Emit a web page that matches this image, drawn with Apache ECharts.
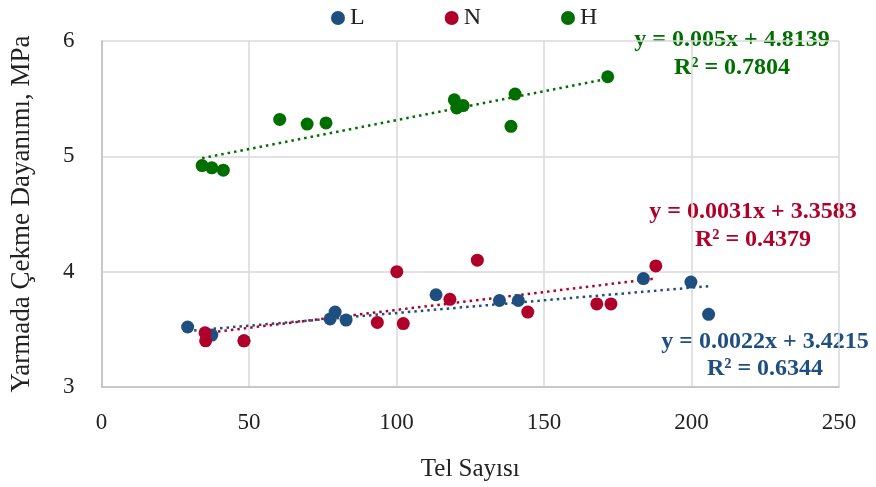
<!DOCTYPE html>
<html>
<head>
<meta charset="utf-8">
<script src="https://cdn.jsdelivr.net/npm/echarts@6/dist/echarts.min.js"></script>
<style>
  html, body { margin: 0; padding: 0; background: #fff; }
  #chart { width: 876px; height: 487px; }
</style>
</head>
<body>
<div id="chart"></div>
<script>
let seriesNames = ['L', 'N', 'H'];
let colorList = ['#1F4E80', '#B0002A', '#006F00'];

let dataL = [
  [29.2, 3.52], [37.4, 3.45], [48.3, 3.40], [77.5, 3.59], [79.2, 3.65],
  [82.9, 3.58], [113.4, 3.80], [134.9, 3.75], [141.3, 3.75], [183.7, 3.94],
  [199.8, 3.91], [205.8, 3.63]
];
let dataN = [
  [35.1, 3.47], [35.3, 3.40], [48.3, 3.40], [93.5, 3.56], [100.1, 4.00],
  [102.3, 3.55], [118.1, 3.76], [127.4, 4.10], [144.5, 3.65], [167.9, 3.72],
  [172.7, 3.72], [187.9, 4.05]
];
let dataH = [
  [34.1, 4.92], [37.4, 4.90], [41.3, 4.88], [60.4, 5.32], [69.7, 5.28],
  [76.1, 5.29], [119.6, 5.49], [120.4, 5.42], [122.6, 5.44], [138.8, 5.26],
  [140.2, 5.54], [171.6, 5.69]
];

// trend line coefficients as printed on the chart
let slopes = [0.0022, 0.0031, 0.005];
let intercepts = [3.4215, 3.3583, 4.8139];
let r2 = ['0.6344', '0.4379', '0.7804'];

let allData = [dataL, dataN, dataH];

function trend(i) {
  let xs = allData[i].map(d => d[0]);
  let x0 = Math.min.apply(null, xs), x1 = Math.max.apply(null, xs);
  return [[x0, slopes[i] * x0 + intercepts[i]], [x1, slopes[i] * x1 + intercepts[i]]];
}

let font = 'Liberation Serif';

let series = [];
seriesNames.forEach(function (n, i) {
  series.push({
    name: n,
    type: 'line',
    data: trend(i),
    symbol: 'none',
    silent: true,
    lineStyle: { color: colorList[i], width: 2.5, type: [2.5, 4] },
    z: 1
  });
});
seriesNames.forEach(function (n, i) {
  series.push({
    name: n,
    type: 'scatter',
    data: allData[i],
    symbolSize: 13,
    itemStyle: { color: colorList[i], opacity: 1 },
    z: 3
  });
});

// equation labels
let eqPos = [[765, 342, 369], [753, 212, 240], [732, 40, 68]];
let graphics = [];
seriesNames.forEach(function (n, i) {
  graphics.push({
    type: 'text', x: eqPos[i][0], y: eqPos[i][1],
    style: {
      text: 'y = ' + slopes[i] + 'x + ' + intercepts[i],
      font: 'bold 24px "Liberation Serif"', fill: colorList[i],
      align: 'center', verticalAlign: 'middle'
    }
  });
  graphics.push({
    type: 'text', x: eqPos[i][0], y: eqPos[i][2],
    style: {
      text: 'R² = ' + r2[i],
      font: 'bold 24px "Liberation Serif"', fill: colorList[i],
      align: 'center', verticalAlign: 'middle'
    }
  });
});

let option = {
  animation: false,
  color: colorList,
  legend: {
    data: seriesNames.map(n => ({ name: n, icon: 'circle' })),
    left: 326,
    top: 1,
    itemWidth: 14,
    itemHeight: 14,
    itemGap: 80,
    textStyle: { fontFamily: font, fontSize: 24, color: '#222' }
  },
  grid: { left: 101.5, right: 37, top: 41, bottom: 98.5 },
  xAxis: {
    type: 'value',
    min: 0, max: 250, interval: 50,
    name: 'Tel Sayısı',
    nameLocation: 'middle',
    nameGap: 70,
    nameTextStyle: { fontFamily: font, fontSize: 25, color: '#222' },
    axisLine: { show: true, lineStyle: { color: '#BFBFBF', width: 1.5 } },
    axisTick: { show: false },
    axisLabel: { fontFamily: font, fontSize: 23, color: '#222', margin: 24 },
    splitLine: { show: true, lineStyle: { color: '#D9D9D9', width: 1.5 } }
  },
  yAxis: {
    type: 'value',
    min: 3, max: 6, interval: 1,
    name: 'Yarmada Çekme Dayanımı, MPa',
    nameLocation: 'middle',
    nameGap: 66,
    nameTextStyle: { fontFamily: font, fontSize: 27, color: '#222' },
    axisLine: { show: true, lineStyle: { color: '#BFBFBF', width: 1.5 } },
    axisTick: { show: false },
    axisLabel: { fontFamily: font, fontSize: 23, color: '#222', margin: 27 },
    splitLine: { show: true, lineStyle: { color: '#D9D9D9', width: 1.5 } }
  },
  graphic: graphics,
  series: series
};

let chart = echarts.init(document.getElementById('chart'));
chart.setOption(option);
</script>
</body>
</html>
